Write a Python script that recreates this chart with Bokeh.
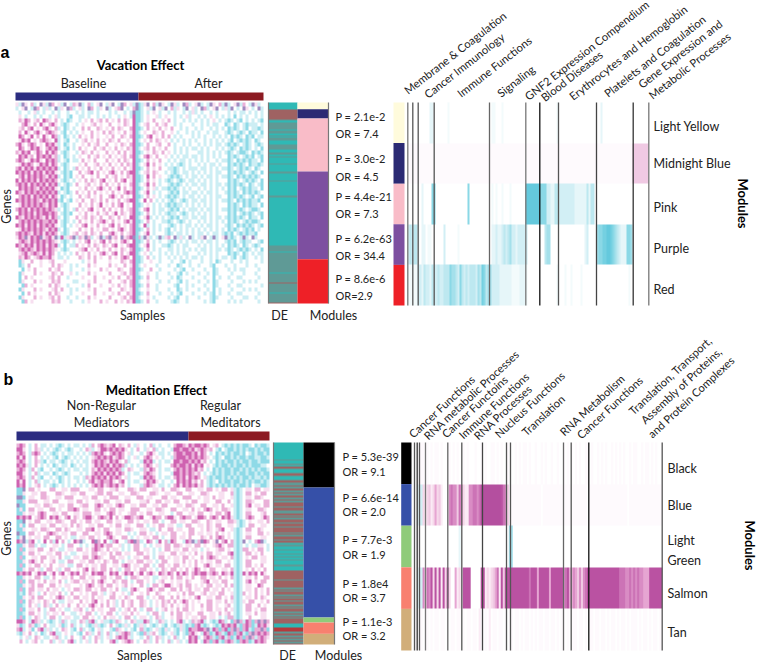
import numpy as np
from bokeh.plotting import figure
from bokeh.models import Range1d, LinearColorMapper
from bokeh.core.properties import value
from bokeh.embed import file_html
from bokeh.resources import INLINE

# ---------- data: panel a ----------
modules_a = ["Light Yellow", "Midnight Blue", "Pink", "Purple", "Red"]
module_colors_a = ["#fffbdc", "#2b2a73", "#f9bcc8", "#7d4fa0", "#ee2027"]
module_sizes_a = [20, 28, 159, 263, 133]
stats_a = ["P = 2.1e-2", "OR = 7.4", "P = 3.0e-2", "OR = 4.5", "P = 4.4e-21", "OR = 7.3",
           "P = 6.2e-63", "OR = 34.4", "P = 8.6e-6", "OR=2.9"]
terms_a = ["Membrane & Coagulation", "Cancer Immunology", "Immune Functions", "Signaling",
           "GNF2 Expression Compendium", "Blood Diseases", "Erythrocytes and Hemoglobin",
           "Platelets and Coagulation", "Gene Expression and", "Metabolic Processes"]

heat_a = """
pcDp.mc.Dp cDm.pcD.cm pDc.mc.pD. cpD.cDm.pc DCcpD.mcDp .cDpc.Dmc. pDc.cDp.mc Dc.pDcm.cD pc.
c.pD.cDm.c pc.Dcp.Dmc .pc.Dm.cp. Dc.pmD.c.m DCc.pcD.pc D.mcp.cD.p c.Dmc.pD.c pcD.c.Dp.c .Dc
.c..c.pc.c ..c.c..c.. c.c.cc.c.. .c.c..c.cD CCc.c.p.c. .c.c..c.cp c.c..c.c.. .c.c.cc.c. c.c
.p.c..c.c. .c.pc..cC. .cc.c..c.c .c..c.p.cM CCc.p..pc. p..c.c.pc. .c.c.p.c.c .c.C.c.c.. c.c
.mpMm.pm.M mp.m.c.Cc. .c.p.m.pm. m.p.m.mp.M CCc.p.m..p .m.c..c.c. c.c.c.p.c. cCc.cC.c.c .cC
..mMp.m.Mp .mMp.cCc.. c.p..pm.p. .m..p.mp.M Cc.pm..m.p m..c.c...c ..c.c.cc.. Cc.Cc.cCcc c.c
.pm.mM.p.m Mp.mc.Cc.c ..m.m..mp. p.m.mp..mM CCc.m.p.m. p.m..c.c.. c.c..c.c.c .CcCc.cC.c cCc
.m.Mp.mMp. mMmp.cC.c. c.p..m.p.m .mp.p.m.pM Cc.p..mp.m ..p.c..c.c .c..c.cc.. cCc.cCc.Cc c.C
.Mm.pM.m.M p.Mmc.Cc.c .m.p.m.p.. p.m..mp.mM CCc.mM.p.m .m.c.c...c .c.c..c.c. c.CcCc.CcC .cc
.pMmM.p.mM mp.Mc.cC.. c.pm.p.m.p .mp.m..p.M Cc.p.m.mp. p.c.c.c.c. c..c.c.c.c .cC.cCcCc. Cc.
mMp.mMm.p. MmMpc.Cc.c ..p.m.pm.. m..p.mp.mM CCc.m..pm. .m.c..c.c. .c.c.c.cc. cCcCc.cCc. cCc
.Mm.pMmMp. mMmMc.cC.c .m.p..m.pm .p.m.p.mpM Cc.pm.m.p. m..c.c.c.c c.c.c..c.c .cCc.CcCc. c.C
mpMmM.pMm. MpMm.cCc.. c.mp.m.p.. m.p.m.m.pM CCc.p.mp.m .p.c.c.c.. .cc.c.c.c. cCc.cCCc.C cCc
.MmMpm.MmM mMpmc.Cc.c .p..m.pm.p .m.p.pm.mM Cc.mMp.m.. p.c.c.cc.c c.c.c.c.c. .CcCc.cCcC .cC
mMm.pMmMp. MmMmc.cC.c c.m.p.m.. .m.p.m.mp.M CCc.m.p.m. .c.c.cc.c. c.c.c..c.c cCc.CcCcCc c.C
.pMmMm.pMm MpMm.cCc.. .p.m..pm.p .m.p.m.mpM Cc.pM.m.p. c.c.cCc.c. .c.c.cc.c. .CcCcCc.Cc cCc
mMpMmMpMmM mMmMc.Cc.c m.p.m.p.m. p.m.p.m.pM CCc.m.p.m. .ccCc.c.cc c.cc.c.c.c cCc.cCcCc. Cc.
MmMmMpMmMp MmMp.cCcC. .m.pmM.m.p .mMp.m.mMM Cc.pm.mp.. c.cCc.cc.c .c.c.c.cc. .CcCcCc.cC c.C
.mMpMmMmMm pMmMc.CcC. p.m..p.m.. m.pm.p.mpM CCc.M.m.p. .cCcCc.c.c c.c.cc.c.c cCc.CcCcCc Cc.
MpMmMmMpMm MmMm.cCc.c .p.m.mp.mM .p.m.mM.pM CCc.m.p.c. cCc.cCc.cc .c.c.c.c.. .CcCc.cCcC c.C
mMmMpMmMmM pMmMc.cCc. m..pm.p.m. m.p.m.p.mM Cc.pM.m.c. .cCcCc.c.c c.cc.c.cc. cCcCcCc.Cc .cC
.MmMmMmpMm MmMp.CcC.. .p.m.p.mMp .m.pM.m.pM CCc.m.pc.c cCcCc.c.c. .c.c.c.c.c .CcC.cCcCc c.C
MmpMmMmMmM mMmMc.cCc. m.p.m.m.p. p.m.p.mMmM Cc.pM.c.c. .cCcC.cc.c c.c.cc.c.. cCcCc.CcCc Cc.
.mMmMpMmMm MpMm.Cc.c. .m.pm.p.m. .mMp.m.p.M CCc.m.p.c. cCcCc.c.cc .c.c.c.cc. .CcCcCc.cC .cC
MmMmMmMmpM mMmMcC.cC. p.m..mp.m. m.p.m.pmMM Cc.M.m.c.c .cCc.cCc.c c.cc.c.c.c cCc.CcCcCc cC.
.pMmMmMmMm pMmM.cCc.. .m.p.m.pM. p.m.mM.p.M CCc.p.c.c. cCcCcc.c.c .c.c.c.c.. .CcCc.CcCc c.C
mMmMpMmMmM mMmpc.Cc.c m.p.mM.p.m .m.p.m.pmM Cc.mM.c.cc .cCcC.c.cc c.c.cc.c.c cCcCcCc.cC Cc.
.MmMmMpMmM MmMm.cCcC. .p.m.p.m.p m.pM.mp.mM CCc.m.c.c. cCcc.cCc.c .c.c.c.c.. .CcC.cCcCc .cC
MmpMmMmMmp MpMmc.Cc.. m.pm.mp.m. .mp.m.p.MM Cc.pMc.c.c .cCcC.cc.c c.cc.c.cc. cCcCcCc.Cc c.C
.mMmMmMmMm mMmM.cCc.c .m.p.m.pmM p.m.p.mMpM CCc.m.c..c cCc.cCc.c. .c.c.c.c.c .CcCc.cCcC Cc.
MmMpMmMpMm MmMp.cC.c. p.mM.p.m.p .mM.m.p.mM Cc.Mc.c.c. .cCc.c.cc. c.c.cc.c.. cCc.CcCcCc .cC
.pMmMmMmMm pMmMc.Cc.. .m.p.m.p.m m.p.mMp.mM CCc.m.c.c. cC.c.c.c.c .c.c.c.c.c .CcCc.cCcC .c.
mMmMmpMmMp MmMm.cCc.p m.pm.mp.m. .mMp.m.pmM Cc.pM.c.. .cCc.cc.c. c.cc.c.cc. cCcC.cCcCc cC.
pMmDpMmMDp mMpDcMcpmD cmpDmc.pDc mDpm.DpmMD CmcDpc.cDc pm.Dcpc.Dc .cpD.cDc.p DcCc.cDc.D c..
.mMmpMmMmM mMmp.cCc.c .p.mM.p.mM .m.p.mMp.M CCc.m.c.c. .cCc.c.c.c c.c.cc.c.. cCcC.cCcc. .cC
MmpMmMpMmM pMmMc.C.cc m.p.m.mp.m p.mM.p.mMM Cc.pM.c..c cCc.c.cc.. .c.c.c.c.c .CcCc.Cc.c Cc.
.mMmMmpMmM mMmp.cCc.. .pmM.p.m.p .m.p.mp.mM CCc.m.c.c. .cc.c.c.c. c.cc.c.cc. cCc.cCcCc. c.C
.pmMpmMmpM pMm.c.c.c. m.p.m.p.mM p.mM.m.pMM Cc.p.c..c. c.c.c.cc.. .c.c.c.c.. .CcCc.Cc.c .cc
.mpMm.pmMm mMp.cc.c.. .mp.m.m.p. .m.p.mMm.M CCc.m.c.c. .c.c.c.c.c c.c..c.c.c c.cC.cCc.. c.c
.Cp..m..p. .pm...p... ..c.p.m... .p...mp.mM CCc..p..c. ..c..cC.c. ..c..c.Cc. ..c..c.c.. ..c
.Cc.m...p. ..m.mp..c. c...m.p... .m.p..m.pM Cc.p...c.. .c..Cc..c. .c...cC... c..c...c.. c..
..C.p.m... .m.pm...c. ..c.p...m. p...mp..mM CCc..m..c. ...c.cC..c ...c..Cc.. .c.c.cc... .c.
.Cp...m.p. ..mp.m..p. c...m.p... .m...pm.mM Cc..p..c.. .c..cC.c.. .c..c.Cc.. ..c...c... c..
.C.m.p.... .pm.m..c.. ..p...m..p ..p.m..mpM CCc.m..c.. ..c.Cc...c ...c..C.c. .c..cc.... .c.
.Cp...m.p. ..mpm....c c...p.m... .m...pm.mM Cc..p...c. .c..cC.c.. .c..c.Cc.. ..c...c.c. c..
..Cm.p.... .m.mp..c.. ..c.m...p. ..p.m.p.mM CCc.m..c.. ...cC..c.c ...c..Cc.. .c..cc.... ..c
.Cp...m.p. ..pm.m..c. c...p.m... .m...mp.pM Cc..p..c.. .c..Cc.c.. .c..c.C.c. ..c...c.c. c..
..C.m.p... .m.mp...c. ..p...m..p ..p.m..mpM CCc.m...c. ..c.cC...c ...c.cC.c. .c..cc.... .c.
.Cp...m.p. .pm.m..c.. c...m.p... .m...pm.mM Cc..p.c... .c.cC..c.. .c...cCc.. ..c...cc.. c..
..Cm.p.... ..mpm...c. ..c.p...m. p..m.p.mpM CCc.m..c.. ..cCc..c.. ...c.cC... .c.c.c.... .c.
"""

de_a = """
ttttt rrrrrrr gtgggggtgg tgtggtttgg gttggtgttt tgtttttgtt tttgtttttt ttttgttttt tttttttttt
tttttttttt tttttttttg gggtgggggg ggggggggtg gggggrgggg ggtggggggr
"""

enrich_a = [
    "0000000000 0220000000 1000000000 0000000000 0011000100 0000000000 0000000000 0000010000 0000000000 0000000200 0000000000 0000000000 0",
    "aaaaaaaaaa aaaaaaaaaa aaaaaaaaaa aaaaaaaaaa aaaaaaaaaa aaaaaaaaaa aaaaaaaaaa aaaaaaaaaa aaaaaaaaaa aaaaaaaaaa aaaaaaaaaa aaaddddddd d",
    "0000000200 0066000000 0000000000 6000000000 0010100100 0100000008 8888888666 3322443333 3333222222 4244000000 0000000000 0000000000 0",
    "3434410220 1100000030 0000010000 0000000000 0022322343 4533233333 0000000004 5500000000 0000000002 3000056677 8876543222 6650000000 0",
    "1111133243 3243343344 4655436434 3444354764 5533332222 2211112221 0000000000 0000010001 0010000100 0000000000 0000000000 0100000000 0",
]
separators_a = [407.3, 412.3, 417.7, 433.7, 489, 525.3, 539.3, 558, 596, 632.7, 648.3]
separator_tones_a = ["#777", "#555", "#555", "#555", "#666", "#777", "#111", "#555", "#444", "#333", "#777"]

# ---------- data: panel b ----------
modules_b = ["Black", "Blue", "Light", "Green", "Salmon", "Tan"]
module_colors_b = ["#000000", "#3650a8", "#8fcb7a", "#f8806f", "#d1ae7a"]
module_sizes_b = [135, 391, 15, 34, 32]
stats_b = ["P = 5.3e-39", "OR = 9.1", "P = 6.6e-14", "OR = 2.0", "P = 7.7e-3", "OR = 1.9",
           "P = 1.8e4", "OR = 3.7", "P = 1.1e-3", "OR = 3.2"]
terms_b = ["Cancer Functions", "RNA metabolic Processes", "Cancer Functoins", "Immune Functions",
           "RNA Processes", "Nucleus Functions", "Translation", "RNA Metabolism", "Cancer Functions",
           "Translation, Transport,", "Assembly of Proteins,", "and Protein Complexes"]

heat_b = """
mMm.c.m.cc .c.cCc.c.c c.c.cm.mMm pmM.mp.m.c p.c.mc.c.. c.mMMmpMmM MmMm.pm.cC cCcCcCCc.C cCCc
MMp.c.mpc. c.cCc.cCc. .c.mpc.pMM mMmMmMp.c. m.cp.mc.c. .cMMmMMmMp mMmpm.cC.c CCcCcCcCCc CcCC
mMm.cmMm.c .cCc.c.cc. c.c.cmMmMp .mMmMm.pc. .c.mMp.cc. c.mMMmMMmM pMm.c.CcCc CcCCcC.cCc CCcC
MpM.c.m.c. c.cC.cCc.c .c.c.pmMmM mMpmMm.c.p c.mMm.p.c. .cmMMMmMmM mMmp.cCc.C CcCcCCcCCc cCCc
mMm.c.mpcC .cc.cCc.c. c.cc.mMmMm pMmMp.mc.. .cMmMc.c.c c.MMmMMmMm Mpm.c.CcCc CCcCcCCcCC cCCC
MmMpc.m.c. c.Cc.cc.Cc .c.c.pMmMm MpMmMmc.c. c.mMm.pc.. .mMmMMmMpM mM.p.cCcCC cCcCCcCcCC Ccc.
mMm.cm.cC. .c.cCc.c.c c.cc.mpMmM mMmMmc.mp. .cmpMm.c.c c.mMmMmMmM pm.c.CcCcC CcCCcCcCcC cCCc
MMp.c.mc.c c.Cc.cCc.. .c.c.mMmMp MmMpMm.c.c c.mMmp.c.. .cMMmMmMmp m.c.cCcCcC CcCcCCcCCc CcCC
mMm.cm.cC. .c.cCc.c.c c.cmpMmMmM pMmMm.pc.. .cMmMm.c.c c.mMmMpMmM m.pcCcCCcC cCcCcCCcCc cCcC
MpM.c.mc.c c.c.Cc.c.. c.c.mMpmMm mMp.mM.c.c c.pMmMp.c. .c.MmMmMpm .m.cCc.CcC CcCCcCcCcC CcCc
MmM.c.pm.c .cCc.c.c.c .c.c.mMmMp mMmMpm.c.. .cmMmp.cc. c.mMpMmMmM pm.cCcCcCc CcCcCCcC.c cCCc
CCD.mm.p.. .mm..pp.mm m...pp.mm. .ppm...mmp .mm..pp.m. .mmp..mm.. pp.mm.p.mm .pcCc.pp.m m.pp
CCp..pp.mm ...mmp..pp .mm...pmm. mm..pp..mm p...mmp..p p..mm..pp. .mmp...pp. .mcCc.mm.p .mm.
DDC.pp..mm p..pp.mmm. ..pp.mm..p .mmm..pp.. mm.pp...mm .pp..mmm.. p.pp.m.pp. .pcCc.pp.m mp..
CCp.mmm..p p.mm...pp. mm.p..pp.m m..pp.mm.. .ppm..mm.p p.mm..p.mm ..pp..mm.. m.cCc.mmp. ..mm
DCC...pp.m mp..pp.mm. .pmm..mMm. pp.mMm..pp .mm..pp.mm ...pp.mmp. .mm..pp.m. .pcCc.mM.p p.mm
CpC.mm.pp. .mm.p..mmM m.pp..mm.p .mm.pp..mm m..pp.mmp. .mm..pp.m. p.mMm.p.mm p.cCc.pp.. mmp.
CCp.pp.mMm ..pp.mm..p p.mmm.pp.. mMm.p..pmm .p.mm..pp. .c.mm..pp. mm..p.mm.m M.cCc.mm.. .pm.
MmMmM.pmMm .MmMp.mM.m p.mMMp.mMm pM.m.pMMmp mM..pMmm.m MMp.mMmm.p MMm.mMm.Mm MpcCc.mMm. .pMm
CCD.p.mm.. pp.mmp..mm .p.mm.pp.. mm.pp..mm. p.pp.mm.c. .mm.pp..mm p..mp.pp.. mmpcCc.p.. pp.m
CpC.mm..pp .mm..pp.m. mp..pp.mm. .p.mm.pp.. mm.c.p.mm. pp.cc.mm.. pp.mp.mm.. pp.cCc.mm ..pp
CCp..pp.mm p..mm.mp.. pp.mmM.p.m m..pp.mmp. .pp.cc.m.. mm.pp..mm. .p.mp.pmM. .pcCc.mm.. mp..
DCC.mm.p.. mMmp.pp.mm ..mm..pp.m Mm.pp..c.c .mm.p.c.pp .mm..p.mm. pp.pp.m.p. p.cCc.pp.. mm.p
CpD.p.pp.m m..mm.p.cc .pp.mm.p.. mMp..mm.c. p.pp.mm.c. .mm.pp.m.. .mp.m.mMm. p.cCc.mm.. .pp.
MmDcmM.c.M .mcM.m.c.M mDc..MDm.M .cmM..cmMD mc.Mm.cM.m cMm..cMmDc mDMm.pD.mM .mcCcD.c.m MDc.
CCp.mmc.cc ..pp.c.mm. .c.c.pMmMp mm..pc.c.m m.c.c.pp.m m.mmp.pp.m m.p..pmMp. mmcCc.c.cc pp.c
CmC.pp.mm. .mp.cc.pp. mm.p.mMmp. m.pp.c.c.m m.pp.c.c.m m.pp.mm.pp .c.p..pmm. p.cCcmm.p. mm.c
CCp.mm.p.. pp.mm.p.cc ..pp.mm.pp .m.mm.pp.. mm.p.c.pp. .mm.pp.p.m .p.mm.pp.. mMcCc.mm.p .m..
CmC..pp.mm .pp.m.cc.p p.mm.mMmp. .mm.pp.c.p p.mm.c.mm. p.pp.mm.p. .m.mMmp.pp .mcCc.p.mm .pp.
CCp.mMp.m. .pm.cc.mm. .pp.mm.p.m p.mm.c.pp. mm.pp.c.mm ..pp.m.p.m .p.pp.mm.. p.cCc.mm.. .pp.
CmC.p.mm.p .m..pp.cc. mm.p.pp.mm ..pp.mMm.p p.mm.c.mm. p.mm.p.p.m ..mMp.pp.m m.cCc.mm.p .m..
CCp.mm.pc. mm.pc.mm.. p.mM.mp.mm .m.pc.mm.p .mm.p.c.mp .mm.p.m.pM m.p.mm..pp .mcCc.p.m. p.m.
MmMmM.pMmM .pM.mM.pMm M.mp.MmMMp .MmM.pMmM. pM.mMp.Mmp Mm.MpMm.mM mMMpmMm.Mm pMcCcMpMmM .Mp.
CCp.p.mm.c c.m..pp.m. .mm.pp..mm .p.mm.c.mm p.pp.cc.pp .m.mm.p.m. .mm.pp.m.p .mcCc.pp.m ..mm
CmC.mm.p.m .pp.m.c.pm m.pp.m.mMp ..mp.mm.c. mm.p.c.pm. .p.pp.mp.. .pmM.pp.mm ..cCc.mM.p .mm.
CCp.pm.mm. .mm.p.pp.. .p.mMm.pm. mm.p.pm.p. .m.c.mm.pM Mp.pm.mm.p .p.mm.pp.m .mcCc.pp.. Mm..
CmC.mm.pp. m.pp.c.p.m mp.mm.p.mm .p.m.cc.mM p..mMp.mm. .mm.m.pm.p p.mm.pp.m. p.cCc.pp.m .p.m
CcC.mp.c.m .pp.m.c.m. .p.p.mm.pc .pm..p.cm. .p.m..mp.. p..p.m.mm. .pm.pp.mm. .pcCcm.p.m .p.m
CCp.pm.mm. .p.mMm.p.m m.pp.m.pp. .mm.p.mp.. mm.c.p.mm. .m.m.p.p.m M..pp.mm.p .mcCc.pp.m .mp.
CmC.mp.p.m p.m.cc.pp. .m.p.mM.p. m.pc.m.pm. .mp.c.p.mp m.m.pMm.p. p..mm.pp.m .pcCcp.mm. .p.m
CCc.m.pc.m pc.m.p.m.. m.p.mMp.m. m.pc.m.pm. .mp.c.p.mp .m.p.pm.p. .m.mm.p..p m.cCc.mm.. m.p.
CmC.pp.m.c .mm.p.cc.p pm.c.m.pp. .mm.c.pm.m .c.mm.c.pm .p.m.mm.p. .p.mm.pp.m .pcCc.mm.p .mm.
CCc.mm.p.c p.pp.m..cc .p.mm.c.p. mm.c.pp.m. p..c.mm.c. .m.mm.pp.. mm..pp.m.p m.cCc.pp.m .pp.
CmC.c.mp.c .mm.c.pp.c c.mm.p.c.m .pp.c.mm.c .pp.c.mpc. .p.mm.p.pp .mm.pp.c.c mmcCc..m.. .pp.
MMm.cMmpc. cCc.cmc.cc .mpcmMc.pc cCcmp.c.mp ccMmc.cmpc .c.mMc.cmp mMc.cCcMmc .CmDmcMmCm DmDm
pCc.mpCc.m .cc.pCc.mc .c.cCcpcCc .m.cCcpc.C cpc.cCc.cC .cCcpcCcCm McCc.cCcMm MmMcCmMmCc MmMp
mMc.pC.mMc pc.c.mp.cC .mc.cC.pc. .cCmp.c.cC .mcCc.pcCp c.cCpcCMmm MMmDcMmCmM CmDmCmMcCm mDmC
cCp.m.c.Cc .mMcc.p.c. cC.mpc.mc. mc.cpmMmc. cCmcpm.cCc .pcC.cCmMp .cMmCcMmcC MmCmMcCmDm MmMm
.c.pc.mp.c c.pmc.c.m. .cm.c.mpc. pc.mMmMpc. .c.mc.mpc. c.mc.c.MmM c.mMmcCmMc mCcMmCmDmc mMmp
.m.c.pm.c. .mc.pc.mMc .c.pc.m.c. .mMc.pmMm. c.mpc.m.c. mc.pc.cMmM .cMmCmMcCm MmcCmMmCcM mMm.
"""

de_b = """
tttttttttt ttgttgtrgt tgrgttgrgg
rgrrgrgrrg rgrrrgrrgg rgrgrrgrrg rrrgrgrrgr gtgttgttgt gtgtttgttt rrrrrrgrrr rrgrgrrgrg
rgrrgrgrrg rgrgrrrtttRRRgrrgrgrgr
"""

enrich_b = [
    "00aaa0a0a0 aa0a00aa0a 0a00a0a000 a00a0a00aa 0a0a00a000 a0a0aa0a00 a00a0a00a0 0a00a0a0a0 a0a00aa0a0 0a0a0a00a0 a0a0a00a0a a00a0aa0a0 a00a",
    "0133cbcdbc ecdb000fgf fdgecbbffg gfgiiiiiii iiihgfdaaa aaaaaaaaaa aaa0aaaaaa aaaaaaaaaa aaaaaa0aaa aaaaaaaaaa aaaaaa0aaa aaaaaaaaaa aaaa",
    "0000000000 0000000000 0020000000 0000000000 0000000550 0000000000 0000000000 0000000000 0000000000 0000000000 0000000000 0000000000 0000",
    "0133fcgfhc hchbhchc00 ebc0hhhh00 000hhbcbcd egbhdhhhhh hhhhhhhghh hehhhhhehh hhhhfgheef edfdfghhhh hhhhhhhhhh hhgggffgfg fgffeeehhh hhhh",
    "a0aa0aa0a0 aa0aa0a0aa 0aa0a0aa0a a0ba0a0b0a a0aa0a0aa0 aa0a0aa0a0 a0aa0aa0aa 0a0aa0a0aa a0aa0a0aa0 aa0aa0a0aa 0a0aa0a0aa a0a0aa0a0a a0aa",
]
separators_b = [414, 416.7, 419, 425, 447.3, 461.3, 482, 506, 510, 563, 570.7, 588.3, 661.7]
separator_tones_b = ["#555", "#333", "#555", "#777", "#666", "#555", "#444", "#555", "#555", "#666", "#555", "#111", "#555"]

# ---------- palettes ----------
heat_levels = {"D": "#9f8bc0", "M": "#cf62b0", "m": "#eab0d8", "p": "#f7dff0", ".": "#ffffff",
               "c": "#cdeef4", "C": "#8fdae7"}
de_levels = {"t": "#2fb9b5", "g": "#5f9a96", "r": "#9f6262", "R": "#b53a3c"}
enrich_levels = {"0": "#ffffff", "1": "#f3fbfc", "2": "#e6f6f9", "3": "#d2eff5", "4": "#bde8f0",
                 "5": "#a4e0eb", "6": "#8ad8e6", "7": "#74d0e1", "8": "#64c9dd", "9": "#50c2d8",
                 "a": "#fefafd", "b": "#fbebf5", "c": "#f6d8ea", "d": "#f0c9e3", "e": "#e6a5d2",
                 "f": "#d98cc4", "g": "#cc73b6", "h": "#ba52a2", "i": "#b44f9f"}

# ---------- canvas: one unit is one picture pixel; y counts up ----------
PAGE_W, PAGE_H = 757, 663
def Y(py):
    return PAGE_H - py

p = figure(width=PAGE_W, height=PAGE_H, x_range=Range1d(0, PAGE_W), y_range=Range1d(0, PAGE_H),
           x_axis_type=None, y_axis_type=None, toolbar_location=None, output_backend="svg",
           min_border=0, outline_line_color=None, background_fill_color="white")

def matrix(rows, levels):
    keys = list(levels)
    clean = [r.replace(" ", "") for r in rows]
    n = max(len(r) for r in clean)
    fill = keys[list(levels.values()).index("#ffffff")] if "#ffffff" in levels.values() else keys[0]
    return np.array([[keys.index(c) for c in r.ljust(n, fill)] for r in clean], dtype=float)

def show(arr, levels, x0, x1, y0, y1):
    mapper = LinearColorMapper(palette=list(levels.values()), low=-0.5, high=len(levels) - 0.5)
    p.image(image=[arr[::-1]], x=x0, y=Y(y1), dw=x1 - x0, dh=y1 - y0, color_mapper=mapper)

def stack(sizes, colors, x0, x1, y0, y1):
    vals = np.array(sizes, dtype=float)
    edges = y0 + np.concatenate([[0], np.cumsum(vals)]) / vals.sum() * (y1 - y0)
    p.quad(left=x0, right=x1, top=[Y(e) for e in edges[:-1]], bottom=[Y(e) for e in edges[1:]],
           fill_color=colors, line_color=None)

def texts(xs, ys, labels, size, font="Lato", bold=False, angle=0.0, align="left",
          baseline="middle", color="#222222"):
    n = len(labels)
    xs = xs if isinstance(xs, (list, tuple)) else [xs] * n
    ys = ys if isinstance(ys, (list, tuple)) else [ys] * n
    p.text(x=xs, y=[Y(v) for v in ys], text=labels, angle=angle, angle_units="deg",
           text_font=value(font), text_font_size=value(size),
           text_font_style="bold" if bold else "normal",
           text_align=align, text_baseline=baseline, text_color=color)

def panel(heat, heat_box, bar_box, bar_split, de, de_box, mod_box, sizes, colors,
          enrich, enrich_box, strip_x, seps, tones):
    show(matrix(heat.strip().splitlines(), heat_levels), heat_levels, *heat_box)
    x0, x1, y0, y1 = bar_box
    p.quad(left=[x0, bar_split], right=[bar_split, x1], top=Y(y0), bottom=Y(y1),
           fill_color=["#2b2c80", "#8c1a22"], line_color=None)
    de_col = matrix(list(de.replace(" ", "").replace("\n", "")), de_levels)
    show(de_col, de_levels, *de_box)
    stack(sizes, colors, *mod_box)
    ex0, ex1, ey0, ey1 = enrich_box
    show(matrix(enrich, enrich_levels), enrich_levels, *enrich_box)
    stack([1] * len(colors), colors, strip_x[0], strip_x[1], ey0, ey1)
    p.segment(x0=seps, x1=seps, y0=Y(ey0), y1=Y(ey1), line_color=tones, line_width=1.3)
    p.segment(x0=[de_box[0], mod_box[1]], x1=[de_box[0], mod_box[1]], y0=Y(de_box[2]), y1=Y(de_box[3]),
              line_color="#777777", line_width=1.2)

# ---------- panel a ----------
panel(heat_a, (15, 263, 102, 303), (15, 263, 92, 100), 138, de_a, (268, 297, 102, 303),
      (297, 328, 102, 303), module_sizes_a, module_colors_a, enrich_a, (407, 648, 102, 305),
      (393, 404), separators_a, separator_tones_a)
texts(0, 52, ["a"], "16px", font="Liberation Sans", bold=True, color="black")
texts(140, 64, ["Vacation Effect"], "13px", bold=True, align="center", color="black")
texts([83, 208], [83, 83], ["Baseline", "After"], "12.5px", align="center")
texts([142, 279, 333], [315, 315, 315], ["Samples", "DE", "Modules"], "12.5px", align="center")
texts(6, 206, ["Genes"], "12.5px", angle=90, align="center")
texts(335, [116, 133, 158, 175.5, 196, 213, 237.5, 255, 278, 295], stats_a, "11px")
texts(653, [126, 163, 207, 248, 289], modules_a, "12.5px")
texts(742, 203, ["Modules"], "13px", bold=True, angle=-90, align="center", color="black")
texts([405, 425, 458, 498, 525.5, 541.7, 570, 605, 639, 649.5],
      [91, 95, 94, 94, 97, 98.3, 97, 94, 85, 96], terms_a, "11.2px", angle=38, baseline="alphabetic")

# ---------- panel b ----------
panel(heat_b, (16, 269, 443, 643), (16, 269, 431, 440), 188, de_b, (273, 303, 442, 644),
      (303, 334, 442, 644), module_sizes_b, module_colors_b, enrich_b, (414, 661.7, 442, 650),
      (400.7, 411), separators_b, separator_tones_b)
texts(3, 379, ["b"], "16px", font="Liberation Sans", bold=True, color="black")
texts(156, 389, ["Meditation Effect"], "13px", bold=True, align="center", color="black")
texts([101, 101, 220, 230], [405, 421.5, 405, 421.5],
      ["Non-Regular", "Mediators", "Regular", "Meditators"], "12.5px", align="center")
texts([139, 287, 338], [655, 655, 655], ["Samples", "DE", "Modules"], "12.5px", align="center")
texts(6, 538, ["Genes"], "12.5px", angle=90, align="center")
texts(342, [456, 471, 497, 511, 539, 554, 583, 597, 621, 635], stats_b, "11px")
texts(667, [468, 505, 540, 560, 593, 632], modules_b, "12.5px")
texts(749, 545, ["Modules"], "13px", bold=True, angle=-90, align="center", color="black")
texts([410, 425, 443, 460, 475, 496, 523, 561, 578, 630, 642, 649],
      [435, 437, 435, 436, 437, 435, 433, 433, 436, 412, 421, 435], terms_b, "11.2px", angle=43,
      baseline="alphabetic")

open("out.html", "w").write(file_html(p, INLINE))
